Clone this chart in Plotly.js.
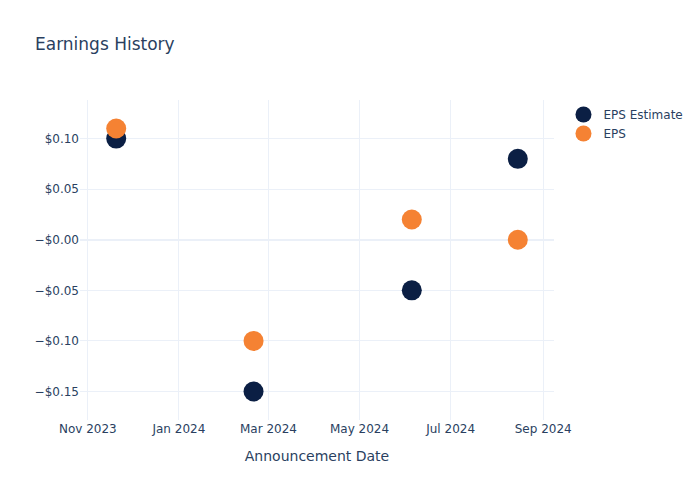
<!DOCTYPE html>
<html>
<head>
<meta charset="utf-8">
<script src="https://cdn.plot.ly/plotly-3.0.1.min.js"></script>
<style>html,body{margin:0;padding:0;}#chart{width:700px;height:500px;}</style>
</head>
<body>
<div id="chart"></div>
<script>
var dates = ["2023-11-20", "2024-02-20", "2024-06-05", "2024-08-15"];
var epsEstimate = [0.10, -0.15, -0.05, 0.08];
var epsActual = [0.11, -0.10, 0.02, 0.00];
var seriesNames = ["EPS Estimate", "EPS"];
var yTickVals = [-0.15, -0.10, -0.05, -0.0000001, 0.05, 0.10];
var yTickText = ["\u2212$0.15", "\u2212$0.10", "\u2212$0.05", "\u2212$0.00", "$0.05", "$0.10"];

var data = [
  {x: dates, y: epsEstimate, name: seriesNames[0], mode: "markers", type: "scatter",
   marker: {color: "#0b1f44", size: 20}},
  {x: dates, y: epsActual, name: seriesNames[1], mode: "markers", type: "scatter",
   marker: {color: "#f58233", size: 20}}
];
var layout = {
  template: "plotly_white",
  width: 700, height: 500,
  paper_bgcolor: "white", plot_bgcolor: "white",
  font: {family: "'DejaVu Sans', verdana, sans-serif", size: 12, color: "#2a3f5f"},
  title: {text: "Earnings History", x: 0.05, font: {size: 17}},
  xaxis: {title: {text: "Announcement Date", standoff: 16}, type: "date", gridcolor: "#EBF0F8", zerolinecolor: "#EBF0F8", showline: false},
  yaxis: {tickvals: yTickVals, ticktext: yTickText, gridcolor: "#EBF0F8", zerolinecolor: "#EBF0F8", zerolinewidth: 2},
  legend: {font: {size: 12}}
};
Plotly.newPlot("chart", data, layout, {displayModeBar: false});
</script>
</body>
</html>
